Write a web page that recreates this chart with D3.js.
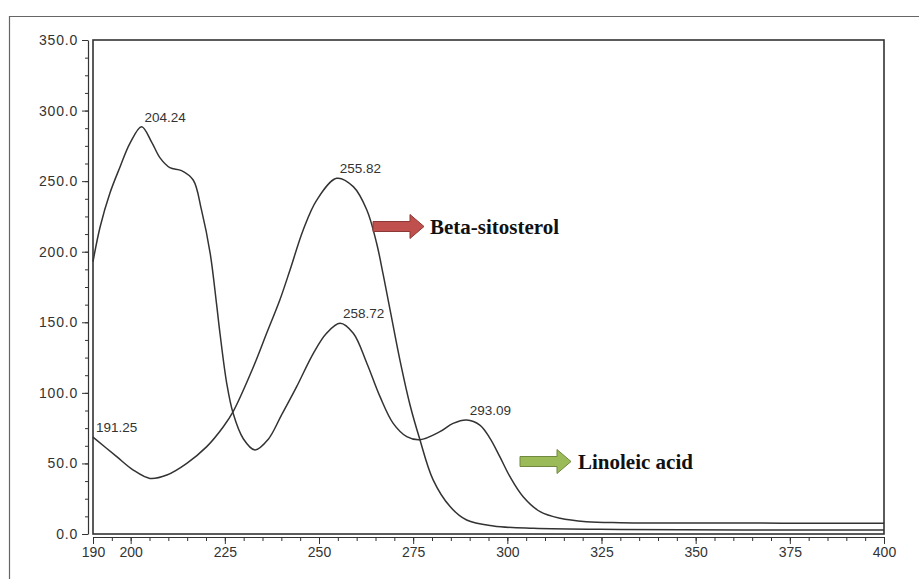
<!DOCTYPE html>
<html>
<head>
<meta charset="utf-8">
<script src="https://cdn.jsdelivr.net/npm/d3@7"></script>
<style>
  html, body { margin: 0; padding: 0; background: #fff; }
  svg { display: block; }
</style>
</head>
<body>
<div id="chart"></div>
<script>
// spectrum: wavelength (nm) and absorbance
const linoleicWl = [190, 191.9, 194.5, 197.2, 199.8, 202.9, 205.6, 207.8, 210.4, 213.5, 216.6, 218.8, 221.1, 222.8, 223.7, 225.5, 227.2, 229.9, 233, 236.5, 240, 244, 248.5, 252, 255.6, 259.1, 262.7, 266.2, 269.7, 273.3, 276.8, 282.1, 285.6, 289.2, 292.7, 295.4, 298, 300.7, 304.2, 308.7, 314, 321, 330, 350, 400];
const linoleicAbs = [193, 217.7, 241.6, 260.2, 276.8, 288.6, 277.5, 266.5, 259.6, 257.5, 250.8, 229.6, 199, 163, 142.4, 106.8, 85.5, 67.5, 59.5, 67, 84, 104, 128, 142.2, 149.3, 142.2, 121, 97.3, 78.4, 69, 66.8, 72.5, 78.4, 80.8, 77.2, 67.8, 54.8, 40.6, 26.4, 15.8, 11.1, 8.7, 8.0, 7.8, 7.6];

const sitosterolWl = [190, 196.3, 200.7, 205.1, 209.6, 214.9, 220.2, 224.6, 227.2, 232.6, 236.1, 239.6, 242.3, 245.8, 249.4, 254.7, 259.1, 262.7, 265.3, 267.1, 269, 271.5, 274.2, 276.6, 280.3, 284.8, 289.2, 296.3, 306.9, 330, 400];
const sitosterolAbs = [68.6, 54.8, 45.3, 39.4, 41.8, 50.1, 61.9, 76, 86.7, 118.5, 142.2, 165.8, 187, 215.4, 236.6, 252, 246.1, 229.6, 206, 183, 157, 123, 91, 68.5, 38.3, 19.4, 9.9, 5.7, 4, 3.2, 2.8];

// peak labels: text, wavelength and absorbance where the label sits
const peakText = ['191.25', '204.24', '255.82', '258.72', '293.09'];
const peakWl = [190, 202.9, 254.7, 255.6, 289.2];
const peakAbs = [68.6, 288.6, 252, 149.3, 80.8];

const xMajor = [190, 200, 225, 250, 275, 300, 325, 350, 375, 400];
const yMajor = [0, 50, 100, 150, 200, 250, 300, 350];

const svg = d3.select('#chart')
  .append('svg')
  .attr('width', 919)
  .attr('height', 579);

// outer frame (cut off at right and bottom)
svg.append('path')
  .attr('d', 'M9.5,579 V16.5 H919')
  .attr('fill', 'none')
  .attr('stroke', '#666')
  .attr('stroke-width', 1.2);

const plotL = 93, plotR = 884, plotT = 40, plotB = 534;

const x = d3.scaleLinear().domain([190, 400]).range([plotL, plotR]);
const y = d3.scaleLinear().domain([0, 350]).range([plotB, plotT]);

// plot frame
svg.append('rect')
  .attr('x', plotL)
  .attr('y', plotT)
  .attr('width', plotR - plotL)
  .attr('height', plotB - plotT)
  .attr('fill', 'none')
  .attr('stroke', '#333')
  .attr('stroke-width', 1.6);

// y axis, offset left of the frame
const yMinor = d3.range(0, 350.1, 12.5);
svg.append('g')
  .attr('transform', 'translate(88,0)')
  .call(d3.axisLeft(y).tickValues(yMinor).tickSize(3).tickSizeOuter(0).tickFormat(''))
  .call(g => g.select('.domain').attr('stroke', '#333').attr('stroke-width', 1.2));
svg.append('g')
  .attr('transform', 'translate(88,0)')
  .call(d3.axisLeft(y).tickValues(yMajor).tickSize(6).tickPadding(4).tickFormat(d3.format('.1f')))
  .call(g => g.select('.domain').remove())
  .call(g => g.selectAll('text')
    .attr('fill', '#333')
    .style('font-family', 'Liberation Sans, Arial, sans-serif')
    .style('font-size', '14px')
    .style('letter-spacing', '0.8px'));

// x axis, offset below the frame
const xMinor = d3.range(190, 400.1, 5);
svg.append('g')
  .attr('transform', 'translate(0,537)')
  .call(d3.axisBottom(x).tickValues(xMinor).tickSize(4).tickSizeOuter(0).tickFormat(''))
  .call(g => g.select('.domain').attr('stroke', '#333').attr('stroke-width', 1.2));
svg.append('g')
  .attr('transform', 'translate(0,537)')
  .call(d3.axisBottom(x).tickValues(xMajor).tickSize(7).tickPadding(3).tickFormat(d3.format('d')))
  .call(g => g.select('.domain').remove())
  .call(g => g.selectAll('text')
    .attr('fill', '#333')
    .style('font-family', 'Liberation Sans, Arial, sans-serif')
    .style('font-size', '14px'));

svg.selectAll('.tick line').attr('stroke', '#333');

// spectra
const line = d3.line()
  .x(d => x(d[0]))
  .y(d => y(d[1]))
  .curve(d3.curveCatmullRom.alpha(0.5));

const series = [
  d3.zip(linoleicWl, linoleicAbs),
  d3.zip(sitosterolWl, sitosterolAbs)
];

svg.selectAll('path.spectrum')
  .data(series)
  .join('path')
  .attr('class', 'spectrum')
  .attr('d', line)
  .attr('fill', 'none')
  .attr('stroke', '#333')
  .attr('stroke-width', 1.5);

// peak labels
svg.selectAll('text.peak')
  .data(peakText)
  .join('text')
  .attr('class', 'peak')
  .attr('x', (d, i) => x(peakWl[i]) + 3)
  .attr('y', (d, i) => y(peakAbs[i]) - 5)
  .attr('fill', '#333')
  .style('font-family', 'Liberation Sans, Arial, sans-serif')
  .style('font-size', '13.5px')
  .text(d => d);

// block arrows with legend text
function blockArrow(x0, cy, len, fill, stroke) {
  const bodyH = 10, headH = 24, headL = 14;
  const p = [
    [x0, cy - bodyH / 2], [x0 + len - headL, cy - bodyH / 2], [x0 + len - headL, cy - headH / 2],
    [x0 + len, cy], [x0 + len - headL, cy + headH / 2], [x0 + len - headL, cy + bodyH / 2],
    [x0, cy + bodyH / 2]
  ];
  svg.append('path')
    .attr('d', 'M' + p.join('L') + 'Z')
    .attr('fill', fill)
    .attr('stroke', stroke)
    .attr('stroke-width', 1);
}

blockArrow(373, 226.5, 51, '#c0504d', '#8c3836');
svg.append('text')
  .attr('x', 430)
  .attr('y', 233.5)
  .attr('fill', '#111')
  .style('font-family', 'Liberation Serif, Times New Roman, serif')
  .style('font-weight', 'bold')
  .style('font-size', '21px')
  .text('Beta-sitosterol');

blockArrow(520, 461.5, 51, '#9bbb59', '#71893f');
svg.append('text')
  .attr('x', 578)
  .attr('y', 468.5)
  .attr('fill', '#111')
  .style('font-family', 'Liberation Serif, Times New Roman, serif')
  .style('font-weight', 'bold')
  .style('font-size', '21px')
  .text('Linoleic acid');
</script>
</body>
</html>
